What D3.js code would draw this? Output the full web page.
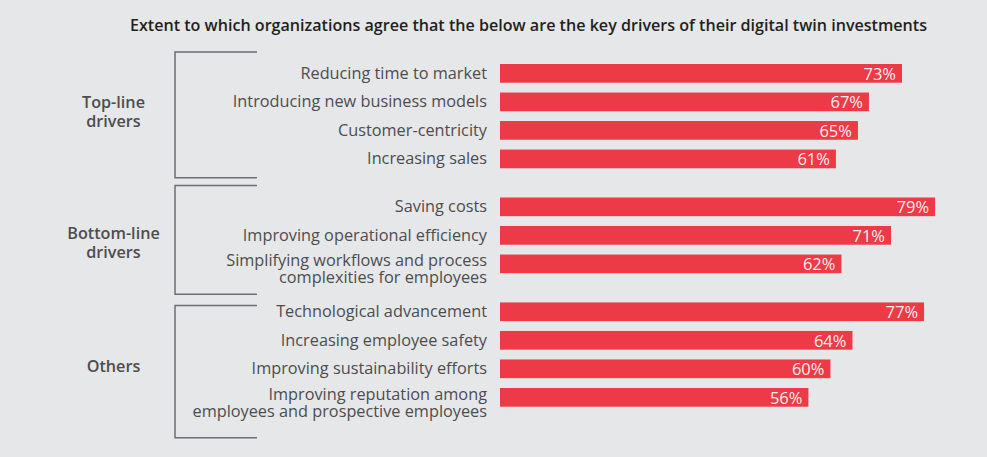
<!DOCTYPE html>
<html>
<head>
<meta charset="utf-8">
<script src="https://cdn.jsdelivr.net/npm/d3@7"></script>
<style>
  html, body { margin: 0; padding: 0; background: #e6e7e8; }
  svg { display: block; }
  text { font-family: "Open Sans", "Noto Sans", sans-serif; }
</style>
</head>
<body>
<svg id="chart" width="987" height="457"></svg>
<script>
// ---- data ----
const title = "Extent to which organizations agree that the below are the key drivers of their digital twin investments";
const groups = ["Top-line\ndrivers", "Bottom-line\ndrivers", "Others"];
const categories = [
  "Reducing time to market",
  "Introducing new business models",
  "Customer-centricity",
  "Increasing sales",
  "Saving costs",
  "Improving operational efficiency",
  "Simplifying workflows and process\ncomplexities for employees",
  "Technological advancement",
  "Increasing employee safety",
  "Improving sustainability efforts",
  "Improving reputation among\nemployees and prospective employees"
];
const groupIndex = [0, 0, 0, 0, 1, 1, 1, 2, 2, 2, 2];
const values = [73, 67, 65, 61, 79, 71, 62, 77, 64, 60, 56];

// ---- layout ----
const W = 987, H = 457;
const barLeft = 500, pxPerPct = 5.507;
const groupGap = 0.68;
const barH = 18.7;
const bracketTopPad = [12, 12, -3];
const bracketBottomPad = [9.5, 21, 31];
const groupLabelDy = [3, 8.5, 0.5];
const colors = { bg: "#e6e7e8", bar: "#ed3a47", text: "#4d4d4f", title: "#231f20", line: "#6d6e71", value: "#fbeeee" };

const svg = d3.select("#chart");
svg.append("rect").attr("width", W).attr("height", H).attr("fill", colors.bg);

const x = d3.scaleLinear().domain([0, 100]).range([barLeft, barLeft + 100 * pxPerPct]);
const slots = categories.map((c, i) => i + groupIndex[i] * groupGap);
const maxSlot = d3.max(slots);
const y = d3.scaleLinear().domain([0, maxSlot]).range([64, 388]);

const rows = categories.map((c, i) => ({ label: c, value: values[i], g: groupIndex[i], slot: slots[i] }));

// title
svg.append("text")
  .attr("x", 528.5).attr("y", 30.5)
  .attr("text-anchor", "middle")
  .attr("font-size", 16.1).attr("font-weight", 600)
  .attr("fill", colors.title)
  .text(title);

// bars
svg.append("g").selectAll("rect").data(rows).join("rect")
  .attr("x", x(0))
  .attr("y", d => y(d.slot))
  .attr("width", d => x(d.value) - x(0))
  .attr("height", barH)
  .attr("fill", colors.bar);

// value labels
svg.append("g").selectAll("text").data(rows).join("text")
  .attr("x", d => x(d.value) - 6)
  .attr("y", d => y(d.slot) + barH / 2 + 6.3)
  .attr("text-anchor", "end")
  .attr("font-size", 16.5)
  .attr("fill", colors.value)
  .text(d => d.value + "%");

// category labels
const labG = svg.append("g");
rows.forEach(d => {
  const lines = d.label.split("\n");
  const cy = y(d.slot) + barH / 2;
  const base = lines.length > 1 ? cy + 2.5 : cy + 5.5;
  const t = labG.append("text")
    .attr("text-anchor", "end")
    .attr("font-size", 16.3)
    .attr("fill", colors.text);
  lines.forEach((ln, k) => {
    t.append("tspan").attr("x", 487).attr("y", base + k * 17).text(ln);
  });
});

// brackets & group labels
const brG = svg.append("g");
groups.forEach((gname, gi) => {
  const gRows = rows.filter(r => r.g === gi);
  const top = y(gRows[0].slot) - bracketTopPad[gi];
  const bottom = y(gRows[gRows.length - 1].slot) + barH + bracketBottomPad[gi];
  brG.append("path")
    .attr("d", `M257,${top}H175V${bottom}H257`)
    .attr("fill", "none")
    .attr("stroke", colors.line)
    .attr("stroke-width", 1.5);
  const lines = gname.split("\n");
  const mid = (top + bottom) / 2;
  const lh = 18.8;
  const first = mid - (lines.length - 1) * lh / 2 + groupLabelDy[gi];
  const t = brG.append("text")
    .attr("text-anchor", "middle")
    .attr("font-size", 16.2)
    .attr("font-weight", 600)
    .attr("fill", colors.text);
  lines.forEach((ln, k) => {
    t.append("tspan").attr("x", 113.5).attr("y", first + k * lh).text(ln);
  });
});
</script>
</body>
</html>
